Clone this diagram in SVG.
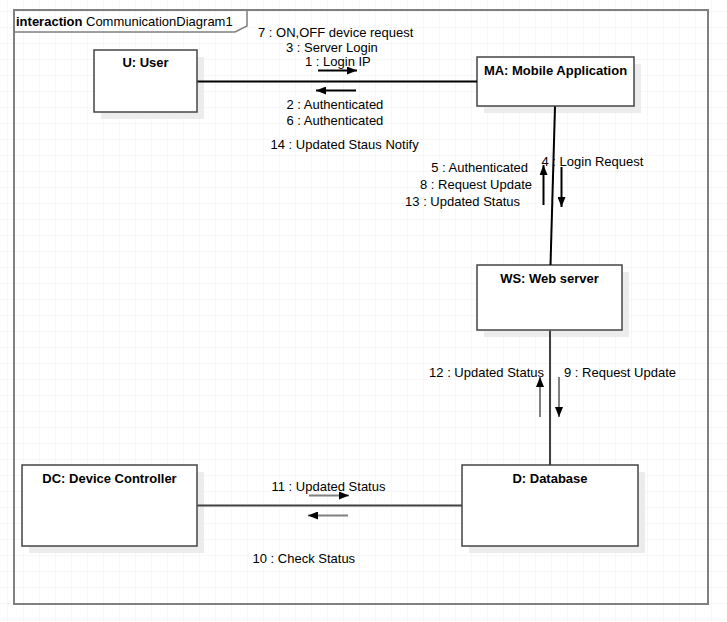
<svg xmlns="http://www.w3.org/2000/svg" width="727" height="622" viewBox="0 0 727 622">
<style>
.t{font-family:"Liberation Sans",Arial,sans-serif;font-size:13px;fill:#000}
.b{font-family:"Liberation Sans",Arial,sans-serif;font-size:13px;font-weight:bold;fill:#000}
.box{fill:#fff;stroke:#444;stroke-width:1.5}
.sh{fill:#ececec}
.conn{fill:none;stroke-width:2}
.msg{fill:none;stroke-width:2}
</style>
<defs>
<pattern id="grid" x="7" y="11" width="16" height="16" patternUnits="userSpaceOnUse">
<path d="M0 0H16M0 0V16" fill="none" stroke="#efefef" stroke-width="1"/>
</pattern>
<marker id="ah" viewBox="0 0 10 8" refX="10" refY="4" markerWidth="10" markerHeight="8" markerUnits="userSpaceOnUse" orient="auto">
<path d="M0 0L10 4L0 8Z" fill="#000"/>
</marker>
</defs>
<rect width="727" height="622" fill="#fff"/>
<rect width="727" height="622" fill="url(#grid)"/>
<g id="frame">
<rect x="14" y="10" width="694" height="594" fill="none" stroke="#808080" stroke-width="2"/>
<path d="M14 32H235L247 26V10" fill="none" stroke="#808080" stroke-width="1.5"/>
<text x="16" y="26" class="b">interaction</text>
<text x="86" y="26" class="t">CommunicationDiagram1</text>
</g>
<g id="user">
<rect x="101" y="57" width="103" height="62" class="sh"/>
<rect x="94" y="50" width="103" height="62" class="box"/>
<text x="145.5" y="67" class="b" text-anchor="middle">U: User</text>
</g>
<g id="mobile-app">
<rect x="484" y="64" width="157" height="49" class="sh"/>
<rect x="477" y="57" width="157" height="49" class="box"/>
<text x="555.5" y="75" class="b" text-anchor="middle">MA: Mobile Application</text>
</g>
<g id="web-server">
<rect x="484" y="272" width="145" height="65" class="sh"/>
<rect x="477" y="265" width="145" height="65" class="box"/>
<text x="549.5" y="283" class="b" text-anchor="middle">WS: Web server</text>
</g>
<g id="device-controller">
<rect x="29" y="472" width="175" height="81" class="sh"/>
<rect x="22" y="465" width="175" height="81" class="box"/>
<text x="109.5" y="483" class="b" text-anchor="middle">DC: Device Controller</text>
</g>
<g id="database">
<rect x="469" y="472" width="176" height="81" class="sh"/>
<rect x="462" y="465" width="176" height="81" class="box"/>
<text x="550" y="483" class="b" text-anchor="middle">D: Database</text>
</g>
<g id="connectors">
<line x1="197.5" y1="81.5" x2="477" y2="81.5" class="conn" stroke="#000"/>
<line x1="555" y1="106.5" x2="550.5" y2="265" class="conn" stroke="#000"/>
<line x1="550" y1="330.5" x2="550" y2="465" class="conn" stroke="#404040"/>
<line x1="197.5" y1="505.5" x2="462" y2="505.5" class="conn" stroke="#404040"/>
<line x1="318" y1="70.5" x2="357" y2="70.5" class="msg" stroke="#000" marker-end="url(#ah)"/>
<line x1="356" y1="90.5" x2="316" y2="90.5" class="msg" stroke="#000" marker-end="url(#ah)"/>
<line x1="543.5" y1="205" x2="543.5" y2="165" class="msg" stroke="#000" marker-end="url(#ah)"/>
<line x1="561.5" y1="167" x2="561.5" y2="207" class="msg" stroke="#000" marker-end="url(#ah)"/>
<line x1="540" y1="417" x2="540" y2="377" class="msg" stroke="#808080" marker-end="url(#ah)"/>
<line x1="559" y1="377" x2="559" y2="417" class="msg" stroke="#808080" marker-end="url(#ah)"/>
<line x1="309" y1="495.5" x2="349" y2="495.5" class="msg" stroke="#808080" marker-end="url(#ah)"/>
<line x1="348" y1="515.5" x2="308" y2="515.5" class="msg" stroke="#808080" marker-end="url(#ah)"/>
<text x="258" y="37" class="t">7 : ON,OFF device request</text>
<text x="286" y="52" class="t">3 : Server Login</text>
<text x="305" y="65.5" class="t">1 : Login IP</text>
<text x="286.5" y="108.5" class="t">2 : Authenticated</text>
<text x="286.5" y="124.5" class="t">6 : Authenticated</text>
<text x="270.5" y="148.5" class="t">14 : Updated Staus Notify</text>
<text x="528" y="172" class="t" text-anchor="end">5 : Authenticated</text>
<text x="532" y="188.5" class="t" text-anchor="end">8 : Request Update</text>
<text x="520" y="205.5" class="t" text-anchor="end">13 : Updated Status</text>
<text x="541.5" y="166" class="t">4 : Login Request</text>
<text x="544" y="377" class="t" text-anchor="end">12 : Updated Status</text>
<text x="564" y="377" class="t">9 : Request Update</text>
<text x="271.5" y="490.5" class="t">11 : Updated Status</text>
<text x="252.5" y="562.5" class="t">10 : Check Status</text>
</g>
</svg>
